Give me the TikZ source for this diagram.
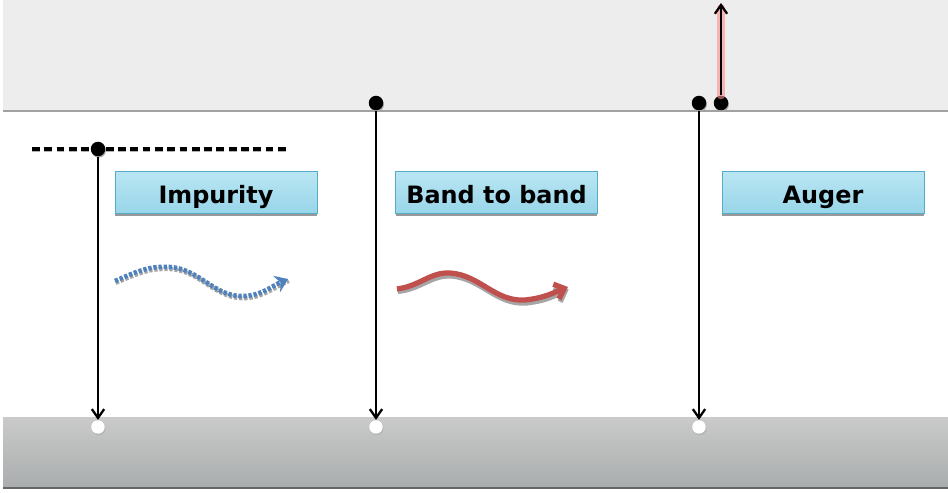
\documentclass[tikz,border=0pt]{standalone}
\usepackage{fontspec}
\setmainfont{DejaVu Sans}
\definecolor{condgray}{RGB}{236,237,236}
\definecolor{edgegray}{RGB}{160,161,160}
\definecolor{valtop}{RGB}{201,202,201}
\definecolor{valbot}{RGB}{170,173,174}
\definecolor{boxtop}{RGB}{186,230,243}
\definecolor{boxbot}{RGB}{152,214,233}
\definecolor{boxline}{RGB}{84,172,200}
\definecolor{heatblue}{RGB}{79,129,189}
\definecolor{lightred}{RGB}{192,80,77}
\usetikzlibrary{arrows.meta, shadows}

\begin{document}
\begin{tikzpicture}[x=0.02cm, y=-0.02cm,
  electron/.style={circle, fill=black, inner sep=0pt, minimum size=0.29cm,
    drop shadow={shadow xshift=0.4pt, shadow yshift=-0.8pt, fill=gray!70, opacity=1}},
  hole/.style={circle, fill=white, inner sep=0pt, minimum size=0.27cm,
    drop shadow={shadow xshift=0.4pt, shadow yshift=-0.8pt, fill=gray!60, opacity=1}},
  procbox/.style={draw=boxline, top color=boxtop, bottom color=boxbot,
    minimum width=4.04cm, minimum height=0.84cm, inner sep=0pt,
    text height=12.6pt, text depth=0pt,
    font=\fontsize{13.6}{16}\selectfont\bfseries,
    drop shadow={shadow xshift=0pt, shadow yshift=-1.6pt, fill=gray!80, opacity=1}},
  jump/.style={line width=1.2pt, -{Straight Barb[length=5pt, width=7pt, line width=1.3pt]}}]

  \useasboundingbox (0,0) rectangle (948,493);

  % bands
  \fill[condgray] (3,0) rectangle (948,111);
  \draw[edgegray, line width=1.2pt] (3,111) -- (948,111);
  \shade[top color=valtop, bottom color=valbot] (3,418) rectangle (948,487);
  \draw[gray!80!black, line width=1.5pt] (3,488) -- (948,488);

  % trap level
  \coordinate (trap-l) at (32,149);
  \coordinate (trap-r) at (287,149);
  \draw[gray!60, line width=2pt, dash pattern=on 4.4pt off 2.6pt] ([yshift=-0.8pt]trap-l) -- ([yshift=-0.8pt]trap-r);
  \draw[black, line width=2pt, dash pattern=on 4.4pt off 2.6pt] (trap-l) -- (trap-r);

  % carriers
  \node[hole] (h1) at (98,427) {};
  \node[hole] (h2) at (376,427) {};
  \node[hole] (h3) at (699,427) {};
  \node[electron] (e1) at (98,149) {};
  \node[electron] (e2) at (376,103) {};
  \node[electron] (e3) at (699,103) {};
  \node[electron] (e4) at (721,103) {};
  \coordinate (hot) at (721,3);

  % transitions
  \draw[jump] (e1) -- (h1);
  \draw[jump] (e2) -- (h2);
  \draw[jump] (e3) -- (h3);
  \draw[red!45, opacity=0.6, line width=4.5pt, line cap=round] (e4.north) -- ([yshift=-3pt]hot);
  \draw[jump] (e4) -- (hot);

  % process names
  \node[procbox] (impurity) at (216,192) {Impurity};
  \node[procbox] (bandband) at (496.5,192) {Band to band};
  \node[procbox] (auger) at (823,192) {Auger};

  % emitted energy
  \coordinate (heat-s) at (115,281);
  \coordinate (heat-e) at (288,279);
  \draw[gray!70, line width=2.6pt, dash pattern=on 1.9pt off 1pt]
    ([shift={(0.4pt,-1pt)}]heat-s) .. controls (141,272) and (151,268) .. (171,269)
    .. controls (201,271) and (216,300) .. (246,298)
    .. controls (263,297) and (273,288) .. ([shift={(0.4pt,-1pt)}]heat-e);
  \draw[heatblue, line width=2.6pt, dash pattern=on 1.9pt off 1pt, -{Stealth[length=7pt, width=10pt]}]
    (heat-s) .. controls (140,270) and (150,266) .. (170,267)
    .. controls (200,269) and (215,298) .. (245,296)
    .. controls (262,295) and (272,286) .. (heat-e);

  \coordinate (light-s) at (397,289);
  \coordinate (light-e) at (568,287);
  \draw[gray!70, line width=3pt, -{Straight Barb[length=5pt, width=9pt]}]
    ([shift={(0.4pt,-1.4pt)}]light-s) .. controls (421,289) and (431,275) .. (451,276)
    .. controls (481,278) and (496,305) .. (526,303)
    .. controls (546,301) and (556,295) .. ([shift={(0.4pt,-1.4pt)}]light-e);
  \draw[lightred, line width=3pt, -{Straight Barb[length=5pt, width=9pt]}]
    (light-s) .. controls (420,286) and (430,272) .. (450,273)
    .. controls (480,275) and (495,302) .. (525,300)
    .. controls (545,298) and (555,292) .. (light-e);
\end{tikzpicture}
\end{document}
